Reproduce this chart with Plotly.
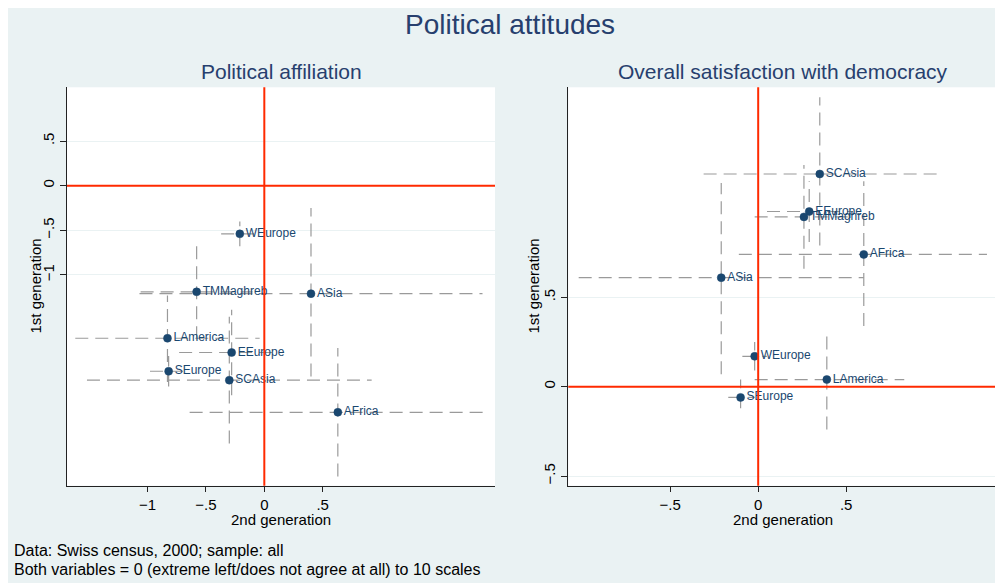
import plotly.graph_objects as go

# ---------------- data ----------------
# Panel 1: Political affiliation
aff_regions = ["WEurope", "TMMaghreb", "ASia", "LAmerica", "EEurope", "SEurope", "SCAsia", "AFrica"]
aff_x = [-0.21, -0.58, 0.40, -0.83, -0.28, -0.82, -0.30, 0.63]
aff_y = [-0.54, -1.19, -1.21, -1.71, -1.87, -2.08, -2.18, -2.54]
aff_x_lo = [-0.37, -1.06, -1.07, -1.62, -0.73, -0.98, -1.52, -0.64]
aff_x_hi = [-0.06, -0.10, 1.87, -0.04, 0.17, -0.67, 0.92, 1.89]
aff_y_lo = [-0.68, -1.72, -2.14, -2.20, -2.35, -2.25, -2.89, -3.26]
aff_y_hi = [-0.40, -0.66, -0.25, -1.23, -1.39, -1.91, -1.47, -1.82]

# Panel 2: Overall satisfaction with democracy
dem_regions = ["SCAsia", "EEurope", "TMMaghreb", "AFrica", "ASia", "WEurope", "LAmerica", "SEurope"]
dem_x = [0.35, 0.29, 0.26, 0.60, -0.21, -0.02, 0.39, -0.10]
dem_y = [1.19, 0.98, 0.95, 0.74, 0.61, 0.17, 0.04, -0.06]
dem_x_lo = [-0.31, 0.05, -0.02, -0.11, -1.02, -0.09, -0.02, -0.17]
dem_x_hi = [1.03, 0.54, 0.53, 1.30, 0.60, 0.05, 0.83, -0.02]
dem_y_lo = [0.79, 0.81, 0.66, 0.34, 0.07, 0.09, -0.24, -0.12]
dem_y_hi = [1.62, 1.15, 1.24, 1.15, 1.14, 0.25, 0.31, 0.04]

aff_xticks = [-1, -0.5, 0, 0.5]
aff_xticklabels = ["\u22121", "\u2212.5", "0", ".5"]
aff_yticks = [0.5, 0, -0.5, -1]
aff_yticklabels = [".5", "0", "\u2212.5", "\u22121"]
dem_xticks = [-0.5, 0, 0.5]
dem_xticklabels = ["\u2212.5", "0", ".5"]
dem_yticks = [-0.5, 0, 0.5]
dem_yticklabels = ["\u2212.5", "0", ".5"]

title_main = "Political attitudes"
title_aff = "Political affiliation"
title_dem = "Overall satisfaction with democracy"
xlabel = "2nd generation"
ylabel = "1st generation"
note1 = "Data: Swiss census, 2000; sample: all"
note2 = "Both variables = 0 (extreme left/does not agree at all) to 10 scales"

# ---------------- style ----------------
W, H = 1003, 583
OFF = 8  # page body margin
BG = "#EAF2F3"
NAVY = "#1a476f"
TITLE_C = "#273f6e"
RED = "#ff2a00"
CI_C = "#9a9a9a"
FONT = "Liberation Sans, Arial, Helvetica, sans-serif"


def px_x(p):
    return (p - OFF) / W


def px_y(p):
    return 1 - (p - OFF) / H


def ci_paths(xs, ys, xlo, xhi, ylo, yhi):
    lx, ly = [], []
    for x, y, a, b, c, d in zip(xs, ys, xlo, xhi, ylo, yhi):
        lx += [a, b, None]
        ly += [y, y, None]
        lx += [x, x, None]
        ly += [c, d, None]
    return lx, ly


fig = go.Figure()

for xs, ys, xlo, xhi, ylo, yhi, names, xa, ya in [
    (aff_x, aff_y, aff_x_lo, aff_x_hi, aff_y_lo, aff_y_hi, aff_regions, "x", "y"),
    (dem_x, dem_y, dem_x_lo, dem_x_hi, dem_y_lo, dem_y_hi, dem_regions, "x2", "y2"),
]:
    lx, ly = ci_paths(xs, ys, xlo, xhi, ylo, yhi)
    fig.add_trace(go.Scatter(
        x=lx, y=ly, mode="lines", xaxis=xa, yaxis=ya,
        line=dict(color=CI_C, width=1.2, dash="13px,7px"),
        hoverinfo="skip", showlegend=False,
    ))
    fig.add_trace(go.Scatter(
        x=xs, y=ys, mode="markers+text", xaxis=xa, yaxis=ya,
        text=names, textposition="middle right",
        textfont=dict(color=NAVY, size=12, family=FONT),
        marker=dict(color=NAVY, size=8, line=dict(color=NAVY, width=0.5)),
        showlegend=False,
    ))

# reference lines at zero (drawn above the data)
for xa, ya in [("x", "y"), ("x2", "y2")]:
    fig.add_shape(type="line", xref=xa, yref=ya + " domain", x0=0, x1=0, y0=0, y1=1,
                  line=dict(color=RED, width=2), layer="above")
    fig.add_shape(type="line", xref=xa + " domain", yref=ya, x0=0, x1=1, y0=0, y1=0,
                  line=dict(color=RED, width=2), layer="above")

ydom = [px_y(485.7), px_y(87.3)]
common_x = dict(showline=True, linecolor="#222222", linewidth=1, ticks="outside",
                ticklen=5, tickcolor="#222222", showgrid=False, zeroline=False,
                tickfont=dict(size=15, color="black", family=FONT))
common_y = dict(showline=True, linecolor="#222222", linewidth=1, ticks="outside",
                ticklen=6, tickcolor="#222222", showgrid=True, gridcolor=BG, gridwidth=1,
                zeroline=False, tickangle=-90,
                tickfont=dict(size=15, color="black", family=FONT))

fig.update_layout(
    width=W, height=H,
    margin=dict(l=0, r=0, t=0, b=0),
    paper_bgcolor=BG, plot_bgcolor="white",
    font=dict(family=FONT, color="black"),
    showlegend=False,
    xaxis=dict(domain=[px_x(67), px_x(495)], range=[-1.691, 1.977], anchor="y",
               tickvals=aff_xticks, ticktext=aff_xticklabels, **common_x),
    yaxis=dict(domain=ydom, range=[-3.363, 1.103], anchor="x",
               tickvals=aff_yticks, ticktext=aff_yticklabels, **common_y),
    xaxis2=dict(domain=[px_x(568.3), px_x(997.7)], range=[-1.079, 1.361], anchor="y2",
                tickvals=dem_xticks, ticktext=dem_xticklabels, **common_x),
    yaxis2=dict(domain=ydom, range=[-0.554, 1.675], anchor="x2",
                tickvals=dem_yticks, ticktext=dem_yticklabels, **common_y),
)

ann = [
    dict(text=title_main, x=px_x(510), y=px_y(25), font=dict(size=28, color=TITLE_C)),
    dict(text=title_aff, x=px_x(281), y=px_y(71), font=dict(size=21, color=TITLE_C)),
    dict(text=title_dem, x=px_x(783), y=px_y(71), font=dict(size=21, color=TITLE_C)),
    dict(text=xlabel, x=px_x(281), y=px_y(519), font=dict(size=15, color="black")),
    dict(text=xlabel, x=px_x(783), y=px_y(519), font=dict(size=15, color="black")),
    dict(text=ylabel, x=px_x(35), y=px_y(286.5), textangle=-90, font=dict(size=15, color="black")),
    dict(text=ylabel, x=px_x(533), y=px_y(286.5), textangle=-90, font=dict(size=15, color="black")),
]
for a in ann:
    a.update(xref="paper", yref="paper", showarrow=False, xanchor="center", yanchor="middle")
    a["font"]["family"] = FONT
ann += [
    dict(text=note1, x=px_x(12), y=px_y(550), xref="paper", yref="paper", showarrow=False,
         xanchor="left", yanchor="middle", font=dict(size=16, color="black", family=FONT)),
    dict(text=note2, x=px_x(12), y=px_y(569), xref="paper", yref="paper", showarrow=False,
         xanchor="left", yanchor="middle", font=dict(size=16, color="black", family=FONT)),
]
fig.update_layout(annotations=ann)

fig.write_html("out.html")
